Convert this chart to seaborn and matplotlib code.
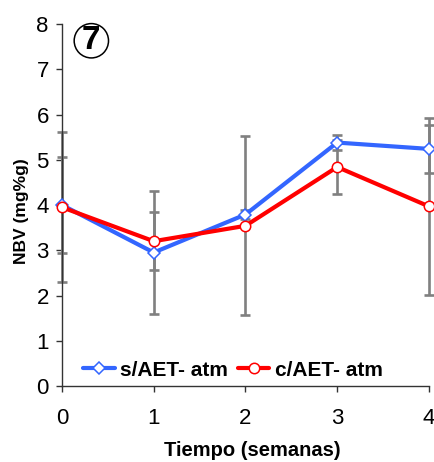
import matplotlib
matplotlib.use("Agg")
import matplotlib.pyplot as plt
import seaborn as sns
import pandas as pd

# weeks and NBV (mg%g) per series
weeks = [0, 1, 2, 3, 4]
s_label = "s/AET- atm"
s_mean = [4.00, 2.95, 3.79, 5.38, 5.24]
s_err = [1.07, 1.35, 0.11, 0.16, 0.53]
c_label = "c/AET- atm"
c_mean = [3.95, 3.20, 3.54, 4.84, 3.97]
c_err = [1.66, 0.645, 1.98, 0.60, 1.95]

blue = "#3366FF"
red = "#FF0000"

sns.set_style("ticks")
plt.rcParams["font.family"] = ["Liberation Sans", "DejaVu Sans"]
plt.rcParams["font.size"] = 14
plt.rcParams["text.color"] = "black"
plt.rcParams["axes.labelcolor"] = "black"

df = pd.DataFrame({
    "Tiempo": weeks * 2,
    "NBV": s_mean + c_mean,
    "serie": [s_label] * 5 + [c_label] * 5,
})

fig = plt.figure(figsize=(4.35, 4.62), dpi=100)
ax = fig.add_axes([0.1425, 0.1645, 0.8435, 0.7835])

# grey error bars behind the lines
for mean, err in [(s_mean, s_err), (c_mean, c_err)]:
    eb = ax.errorbar(weeks, mean, yerr=err, fmt="none", ecolor="#808080",
                     elinewidth=1.9, capsize=3.5, capthick=1.9, zorder=2)
    for art in eb.lines[1] + eb.lines[2]:
        art.set_clip_on(False)

for lab, col, mk, ms in [(s_label, blue, "D", 6), (c_label, red, "o", 7.5)]:
    sub = df[df["serie"] == lab]
    sns.lineplot(data=sub, x="Tiempo", y="NBV", ax=ax, color=col, lw=3,
                 marker=mk, markersize=ms, markerfacecolor="white",
                 markeredgecolor=col, markeredgewidth=1.1, label=lab,
                 clip_on=False, zorder=3)

ax.set_xlim(0, 4)
ax.set_ylim(0, 8)
ax.set_xticks(weeks)
ax.set_yticks(range(0, 9))
sns.despine(ax=ax)
for sp in ["left", "bottom"]:
    ax.spines[sp].set_color("#333333")
    ax.spines[sp].set_linewidth(1.0)
ax.tick_params(axis="both", length=4.5, width=1.0, color="#333333",
               labelcolor="black", labelsize=16)
ax.tick_params(axis="y", pad=5)
ax.tick_params(axis="x", pad=11)

ax.set_xlabel("Tiempo (semanas)", fontsize=14.5, fontweight="bold")
ax.set_ylabel("NBV (mg%g)", fontsize=12.5, fontweight="bold")
ax.xaxis.set_label_coords(0.52, -0.152)
ax.yaxis.set_label_coords(-0.091, 0.483)

ax.legend(loc="center", bbox_to_anchor=(0.466, 0.044), ncol=2, frameon=False,
          handlelength=1.5, handletextpad=0.25, columnspacing=0.5,
          prop={"weight": "bold", "size": 15})

ax.text(0.32, 7.63, "7", fontsize=24, fontweight="bold", ha="center",
        va="center", bbox=dict(boxstyle="circle,pad=0.05", fc="white",
                               ec="black", lw=1.1))

fig.savefig("out.png", dpi=100)
plt.close(fig)
